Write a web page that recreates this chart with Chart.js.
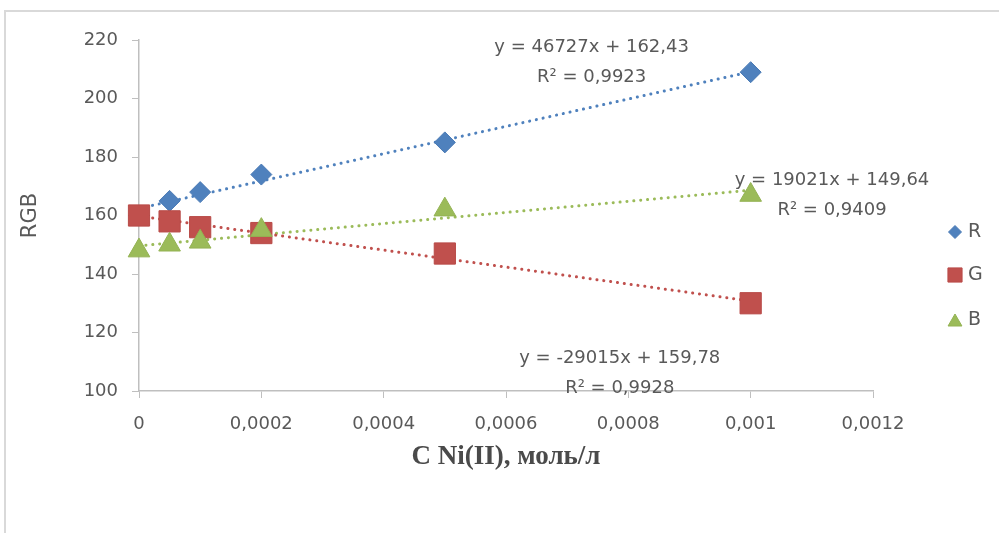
<!DOCTYPE html>
<html>
<head>
<meta charset="utf-8">
<script src="https://cdn.jsdelivr.net/npm/chart.js@4"></script>
<style>
    body { margin: 0; background: #fff; overflow: hidden; }
    canvas { display: block; }
</style>
</head>
<body>
<canvas id="chart" width="999" height="533"></canvas>
<script>
// concentrations, mol/l
const concentrations = [0, 0.00005, 0.0001, 0.0002, 0.0005, 0.001];
const rValues = [160, 165, 168, 174, 185, 209];
const gValues = [160, 158, 156, 154, 147, 130];
const bValues = [148, 150, 151, 155, 162, 167];

const seriesNames = ['R', 'G', 'B'];
const trendSlopes = [46727, -29015, 19021];
const trendIntercepts = [162.43, 159.78, 149.64];
const trendEquations = ['y = 46727x + 162,43', 'y = -29015x + 159,78', 'y = 19021x + 149,64'];
const trendR2 = ['R² = 0,9923', 'R² = 0,9928', 'R² = 0,9409'];
const trendRange = [0, 0.001];

const xTicks = [0, 0.0002, 0.0004, 0.0006, 0.0008, 0.001, 0.0012];
const yTicks = [100, 120, 140, 160, 180, 200, 220];

const colors = ['#4f81bd', '#c0504d', '#9bbb59'];
const borders = ['#4a7ab5', '#b84a47', '#93b253'];
const pointStyles = ['rectRot', 'rect', 'triangle'];
const pointSizes = [10.5, 15, 12.5];
const legendSizes = [6.5, 10, 8];

// where the equation labels sit (data coords of first line centre)
const labelAnchors = [
    { x: 0.00074, y: 217.6 },
    { x: 0.000786, y: 111.3 },
    { x: 0.001133, y: 172.1 }
];

const tickFont = { family: 'DejaVu Sans', size: 18 };
const grey = '#595959';

function fmt(v) {
    return String(Number(v.toPrecision(6))).replace('.', ',');
}

const valueSets = [rValues, gValues, bValues];

const datasets = [];
seriesNames.forEach((name, i) => {
    datasets.push({
        label: name,
        data: concentrations.map((c, j) => ({ x: c, y: valueSets[i][j] })),
        showLine: false,
        clip: false,
        pointStyle: pointStyles[i],
        pointRadius: pointSizes[i],
        pointHoverRadius: pointSizes[i],
        backgroundColor: colors[i],
        borderColor: borders[i],
        borderWidth: 1,
        order: 3 - i
    });
});
seriesNames.forEach((name, i) => {
    datasets.push({
        label: name + ' trend',
        data: trendRange.map(x => ({ x: x, y: trendSlopes[i] * x + trendIntercepts[i] })),
        showLine: true,
        clip: false,
        pointRadius: 0,
        borderColor: colors[i],
        borderWidth: 3,
        borderDash: [0.1, 6.8],
        borderCapStyle: 'round',
        order: 10 + i
    });
});

const extras = {
    id: 'extras',
    beforeDraw(chart) {
        // outer frame, only top and left edges show
        const ctx = chart.ctx;
        ctx.save();
        ctx.strokeStyle = '#d9d9d9';
        ctx.lineWidth = 2;
        ctx.beginPath();
        ctx.moveTo(5, 533);
        ctx.lineTo(5, 11);
        ctx.lineTo(999, 11);
        ctx.stroke();
        ctx.restore();
    },
    afterDatasetsDraw(chart) {
        const ctx = chart.ctx;
        const xs = chart.scales.x, ys = chart.scales.y;
        ctx.save();
        ctx.fillStyle = grey;
        ctx.font = '18px "DejaVu Sans"';
        ctx.textAlign = 'center';
        ctx.textBaseline = 'middle';
        labelAnchors.forEach((a, i) => {
            const px = xs.getPixelForValue(a.x);
            const py = ys.getPixelForValue(a.y);
            ctx.fillText(trendEquations[i], px, py);
            ctx.fillText(trendR2[i], px, py + 30);
        });

        // legend
        const legendX = 955, legendY = [232, 275, 320];
        seriesNames.forEach((name, i) => {
            ctx.fillStyle = colors[i];
            ctx.strokeStyle = borders[i];
            ctx.lineWidth = 1;
            Chart.helpers.drawPoint(ctx, {
                pointStyle: pointStyles[i],
                radius: legendSizes[i],
                rotation: 0,
                borderWidth: 1
            }, legendX, legendY[i] + (i === 2 ? 2 : 0));
            ctx.fillStyle = grey;
            ctx.textAlign = 'left';
            ctx.font = '19px "DejaVu Sans"';
            ctx.fillText(name, legendX + 13, legendY[i]);
        });
        ctx.restore();
    }
};

new Chart(document.getElementById('chart'), {
    type: 'scatter',
    data: { datasets },
    options: {
        responsive: false,
        animation: false,
        events: [],
        layout: { padding: { top: 40, right: 126, bottom: 60, left: 0 } },
        plugins: {
            legend: { display: false },
            tooltip: { enabled: false }
        },
        scales: {
            x: {
                type: 'linear',
                min: 0,
                max: 0.0012,
                afterFit: s => { s.height = 82; },
                afterBuildTicks: s => { s.ticks = xTicks.map(v => ({ value: v })); },
                ticks: { color: grey, font: tickFont, padding: 16, callback: v => fmt(v), maxRotation: 0 },
                grid: { drawOnChartArea: false, tickLength: 7, color: '#bfbfbf' },
                border: { color: '#bfbfbf', width: 1.5 },
                title: {
                    display: true,
                    text: 'C Ni(II), моль/л',
                    color: '#4a4a4a',
                    font: { family: 'Liberation Serif', size: 27, weight: 'bold' },
                    padding: { top: 0, bottom: 0 }
                }
            },
            y: {
                min: 100,
                max: 220,
                afterFit: s => { s.width = 139; },
                afterBuildTicks: s => { s.ticks = yTicks.map(v => ({ value: v })); },
                ticks: { color: grey, font: tickFont, padding: 14 },
                grid: { drawOnChartArea: false, tickLength: 7, color: '#bfbfbf' },
                border: { color: '#bfbfbf', width: 1.5 },
                title: {
                    display: true,
                    text: 'RGB',
                    color: grey,
                    font: { family: 'DejaVu Sans', size: 21 },
                    padding: { top: 18, bottom: 0 }
                }
            }
        }
    },
    plugins: [extras]
});
</script>
</body>
</html>
